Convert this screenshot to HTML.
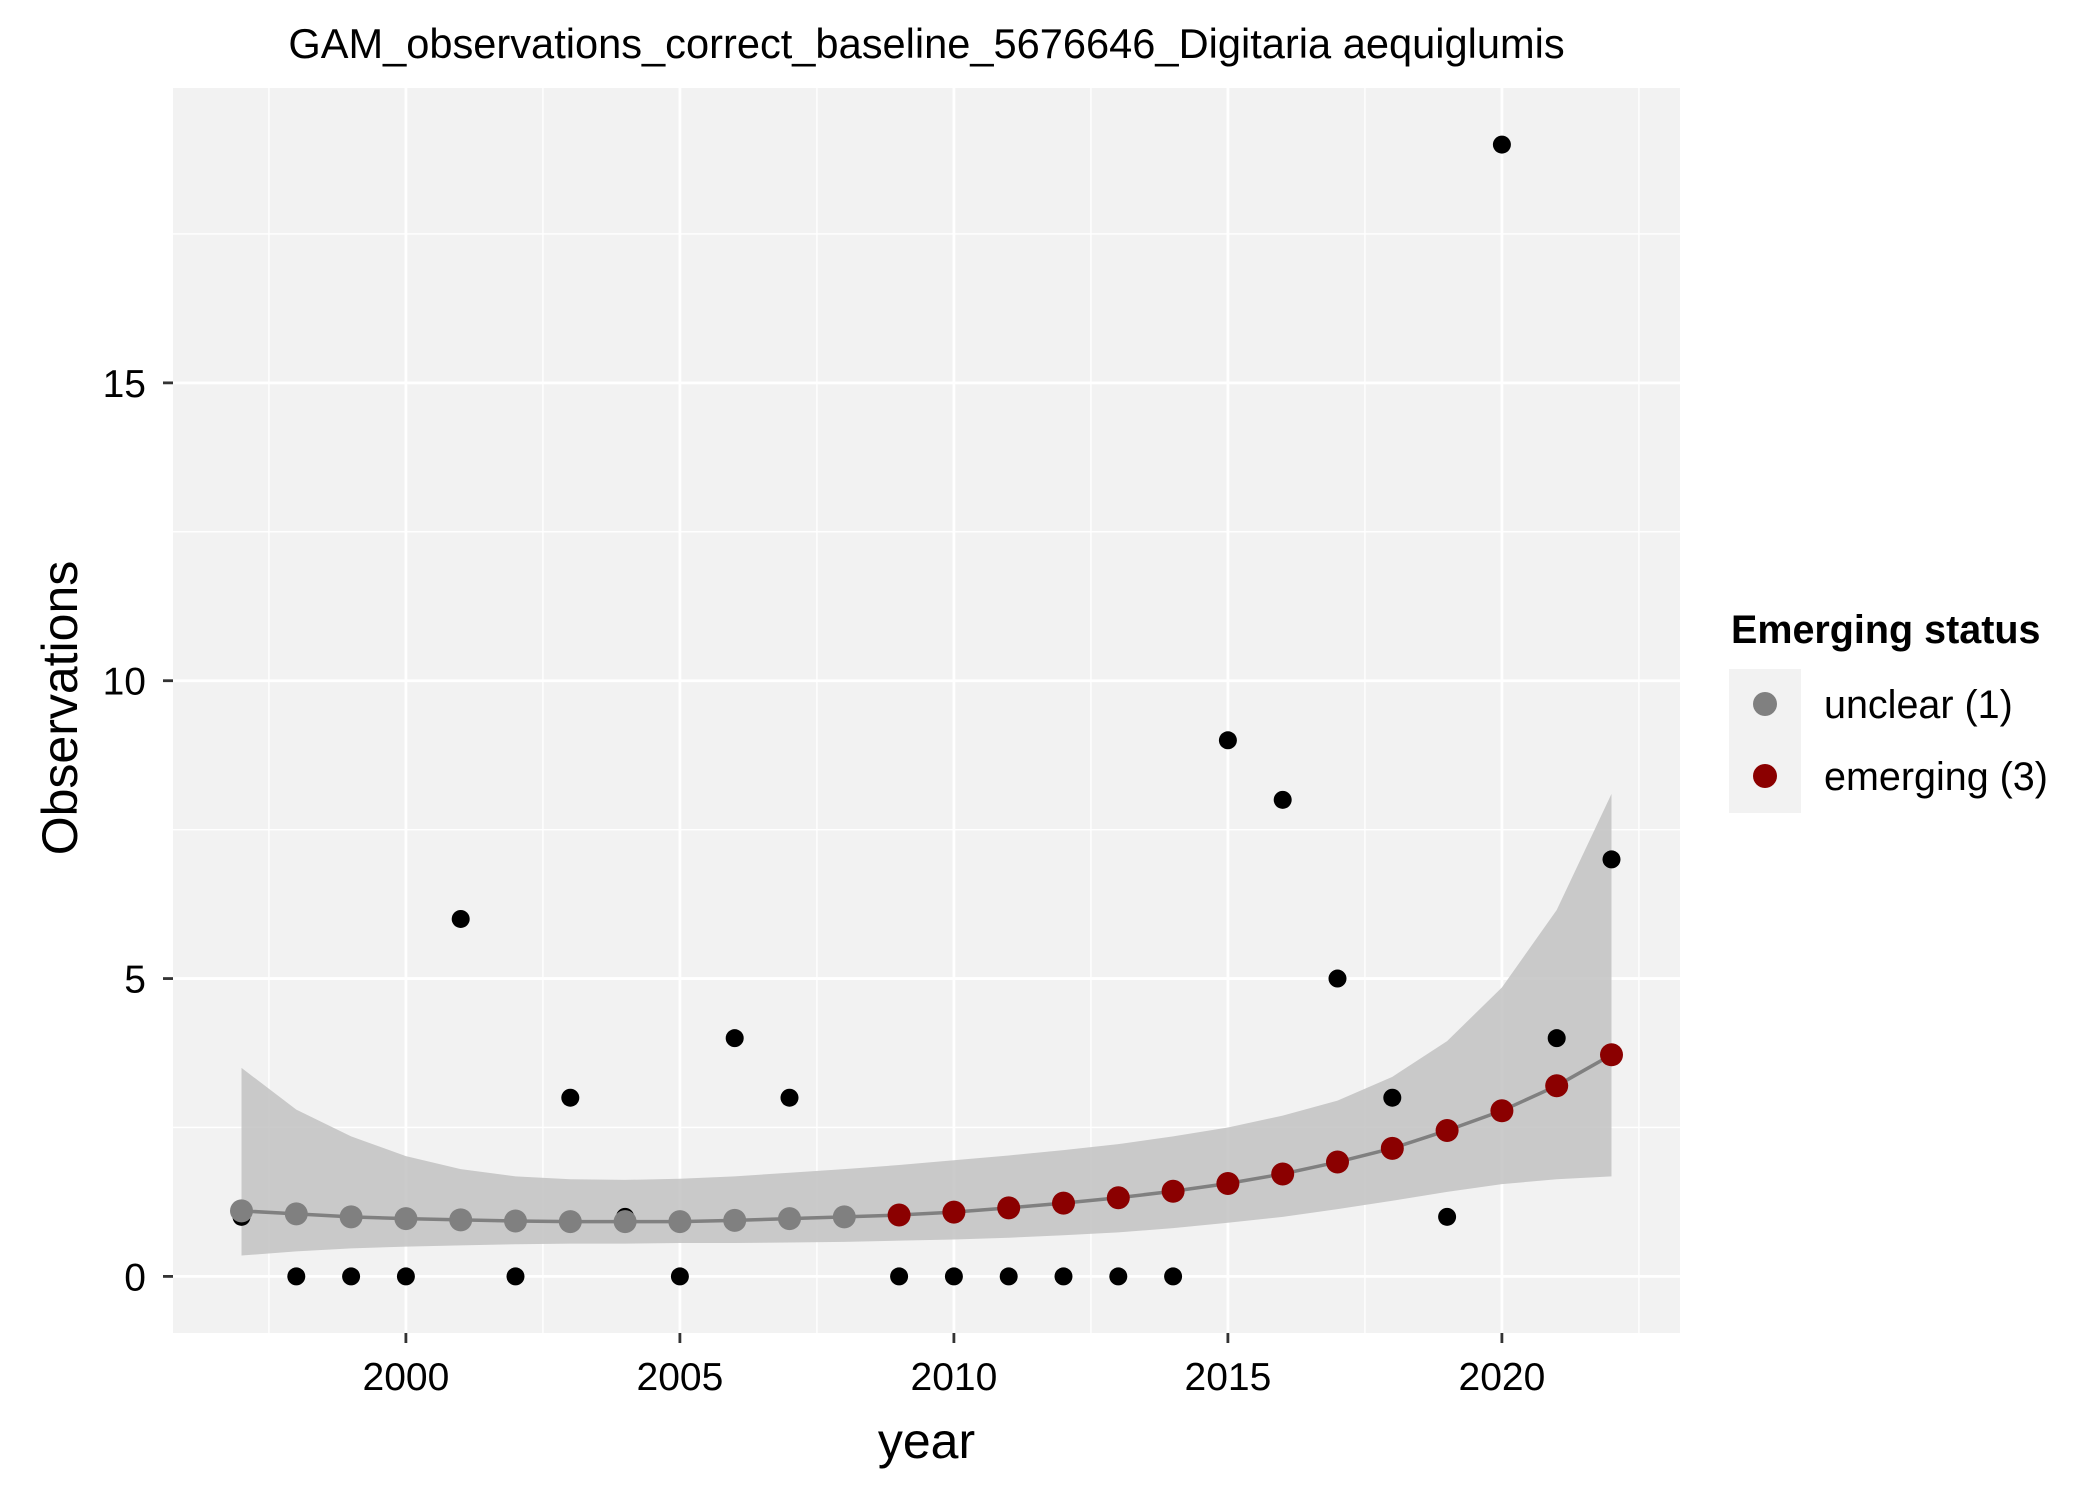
<!DOCTYPE html>
<html><head><meta charset="utf-8"><style>
html,body{margin:0;padding:0;background:#fff;}
svg text{font-family:"Liberation Sans",Arial,sans-serif;}
</style></head><body>
<svg id="chart" width="2100" height="1499" viewBox="0 0 2100 1499" xmlns="http://www.w3.org/2000/svg">
<rect width="2100" height="1499" fill="#ffffff"/>
<text x="926.5" y="58" font-size="41.6" text-anchor="middle" fill="#000">GAM_observations_correct_baseline_5676646_Digitaria aequiglumis</text>
<rect x="173" y="88" width="1507" height="1245" fill="#f2f2f2"/>
<g id="grid"></g>
<g id="ribbon"></g>
<g id="obs"></g>
<g id="fit"></g>
<g id="axes"></g>
<text x="926.5" y="1458" font-size="50" text-anchor="middle" fill="#000">year</text>
<text x="0" y="0" font-size="50" text-anchor="middle" fill="#000" transform="translate(77,708) rotate(-90)">Observations</text>
<g>
<text x="1731" y="643" font-size="39.5" font-weight="bold" fill="#000">Emerging status</text>
<rect x="1729" y="669" width="72" height="144" fill="#f2f2f2"/>
<circle cx="1765" cy="704" r="12" fill="#808080"/>
<circle cx="1765" cy="776" r="12" fill="#8b0000"/>
<text x="1824" y="718" font-size="39.5" fill="#000">unclear (1)</text>
<text x="1824" y="790" font-size="39.5" fill="#000">emerging (3)</text>
</g>
</svg>
<script>
const years=[1997,1998,1999,2000,2001,2002,2003,2004,2005,2006,2007,2008,2009,2010,2011,2012,2013,2014,2015,2016,2017,2018,2019,2020,2021,2022];
const observed=[1,0,0,0,6,0,3,1,0,4,3,1,0,0,0,0,0,0,9,8,5,3,1,19,4,7];
const fitted=[1.1,1.05,1.0,0.97,0.95,0.93,0.92,0.92,0.92,0.94,0.97,1.0,1.03,1.08,1.15,1.23,1.32,1.43,1.56,1.72,1.92,2.15,2.45,2.78,3.2,3.72];
const upper=[3.5,2.8,2.35,2.02,1.8,1.68,1.63,1.62,1.64,1.68,1.74,1.8,1.87,1.95,2.03,2.12,2.22,2.35,2.5,2.7,2.95,3.35,3.95,4.85,6.15,8.1];
const lower=[0.35,0.42,0.47,0.5,0.52,0.54,0.55,0.55,0.56,0.56,0.57,0.58,0.6,0.62,0.65,0.69,0.74,0.81,0.9,1.0,1.13,1.27,1.42,1.55,1.63,1.68];
const status=["unclear","unclear","unclear","unclear","unclear","unclear","unclear","unclear","unclear","unclear","unclear","unclear","emerging","emerging","emerging","emerging","emerging","emerging","emerging","emerging","emerging","emerging","emerging","emerging","emerging","emerging"];
const xTicks=[2000,2005,2010,2015,2020];
const xMinor=[1997.5,2002.5,2007.5,2012.5,2017.5,2022.5];
const yTicks=[0,5,10,15];
const yMinor=[2.5,7.5,12.5,17.5];

const NS="http://www.w3.org/2000/svg";
const pl=173,pr=1680,pt=88,pb=1333;
const xmin=Math.min(...years),xmax=Math.max(...years);
const xr=xmax-xmin,xl0=xmin-0.05*xr,xl1=xmax+0.05*xr;
const ymaxD=Math.max(...observed,...upper),yr=ymaxD-0;
const yl0=0-0.05*yr,yl1=ymaxD+0.05*yr;
function X(v){return pl+(v-xl0)/(xl1-xl0)*(pr-pl);}
function Y(v){return pb-(v-yl0)/(yl1-yl0)*(pb-pt);}
function mk(tag,attrs,parent){const e=document.createElementNS(NS,tag);for(const k in attrs)e.setAttribute(k,attrs[k]);parent.appendChild(e);return e;}

const grid=document.getElementById('grid');
xMinor.forEach(v=>{const l=mk('line',{x1:X(v),x2:X(v),y1:pt,y2:pb,stroke:'#fff','stroke-width':1.4},grid);

});
yMinor.forEach(v=>{const l=mk('line',{x1:pl,x2:pr,y1:Y(v),y2:Y(v),stroke:'#fff','stroke-width':1.4},grid);

});
xTicks.forEach(v=>{const l=mk('line',{x1:X(v),x2:X(v),y1:pt,y2:pb,stroke:'#fff','stroke-width':2.8},grid);

});
yTicks.forEach(v=>{const l=mk('line',{x1:pl,x2:pr,y1:Y(v),y2:Y(v),stroke:'#fff','stroke-width':2.8},grid);

});

const rib=document.getElementById('ribbon');
let d='M'+years.map((y,i)=>X(y)+','+Y(upper[i])).join(' L');
for(let i=years.length-1;i>=0;i--)d+=' L'+X(years[i])+','+Y(lower[i]);
const rp=mk('path',{d:d+' Z',fill:'#bebebe','fill-opacity':0.8},rib);



const obs=document.getElementById('obs');
years.forEach((y,i)=>{const c=mk('circle',{cx:X(y),cy:Y(observed[i]),r:9,fill:'#000'},obs);

});

const fit=document.getElementById('fit');
const fl=mk('polyline',{points:years.map((y,i)=>X(y)+','+Y(fitted[i])).join(' '),fill:'none',stroke:'#808080','stroke-width':3.5},fit);


years.forEach((y,i)=>{const c=mk('circle',{cx:X(y),cy:Y(fitted[i]),r:11.5,fill:status[i]==='emerging'?'#8b0000':'#808080'},fit);

});

const ax=document.getElementById('axes');
xTicks.forEach(v=>{const t=mk('line',{x1:X(v),x2:X(v),y1:pb,y2:pb+10,stroke:'#333','stroke-width':2.8},ax);


const s=mk('text',{x:X(v),y:1390,'font-size':39,'text-anchor':'middle',fill:'#000'},ax);s.textContent=v;

});
yTicks.forEach(v=>{const t=mk('line',{x1:pl-10,x2:pl,y1:Y(v),y2:Y(v),stroke:'#333','stroke-width':2.8},ax);


const s=mk('text',{x:146,y:Y(v)+14,'font-size':39,'text-anchor':'end',fill:'#000'},ax);s.textContent=v;

});
</script>
</body></html>
